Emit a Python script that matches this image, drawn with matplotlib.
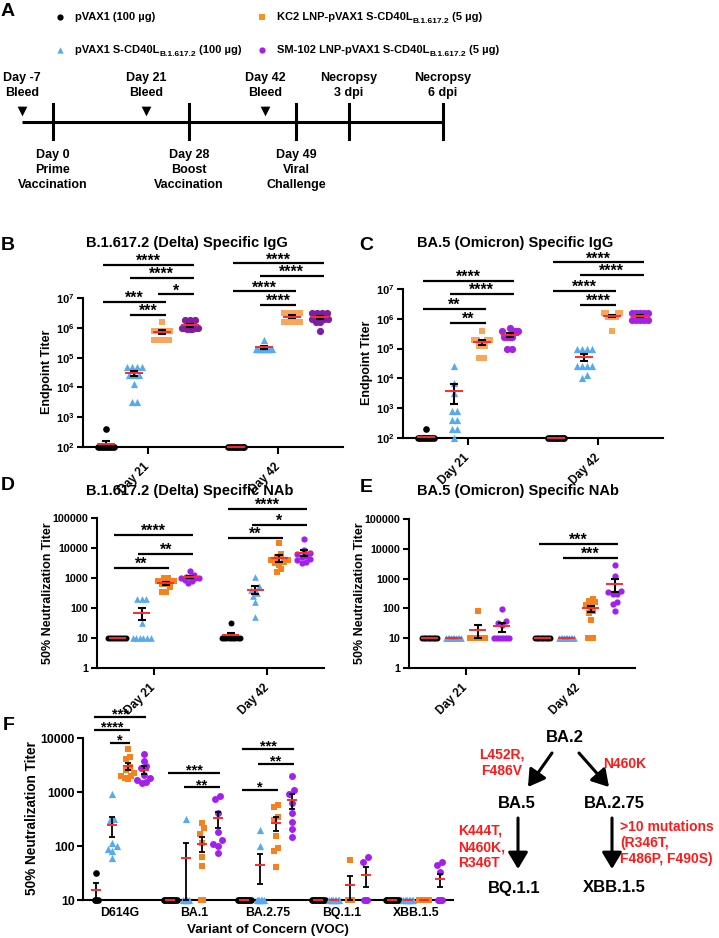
import numpy as np
import matplotlib
matplotlib.use('Agg')
import matplotlib.pyplot as plt
from matplotlib.ticker import NullLocator
from matplotlib.patches import FancyArrowPatch

plt.rcParams['font.family'] = ['Liberation Sans', 'DejaVu Sans']
plt.rcParams['font.weight'] = 'bold'
plt.rcParams['axes.linewidth'] = 1.5
plt.rcParams['mathtext.fontset'] = 'custom'
plt.rcParams['mathtext.rm'] = 'Liberation Sans:bold'
plt.rcParams['mathtext.it'] = 'Liberation Sans:bold'
plt.rcParams['mathtext.bf'] = 'Liberation Sans:bold'

W, H = 719, 938

# ---------------- data ----------------
legend_parts = [('pVAX1 (100 µg)', '', ''),
                ('pVAX1 S-CD40L', 'B.1.617.2', ' (100 µg)'),
                ('KC2 LNP-pVAX1 S-CD40L', 'B.1.617.2', ' (5 µg)'),
                ('SM-102 LNP-pVAX1 S-CD40L', 'B.1.617.2', ' (5 µg)')]
days = ['Day 21', 'Day 42']

# timeline (schematic)
bleeds = ['Day -7\nBleed', 'Day 21\nBleed', 'Day 42\nBleed']
events = ['Day 0\nPrime\nVaccination', 'Day 28\nBoost\nVaccination', 'Day 49\nViral\nChallenge']
necropsy = ['Necropsy\n3 dpi', 'Necropsy\n6 dpi']

# log10 titers, one list per group: pVAX1, S-CD40L, KC2 LNP, SM-102 LNP
b_d21 = [[2.6, 2, 2, 2, 2, 2, 2, 2, 2, 2],
         [4.7, 4.7, 4.7, 4.7, 4.4, 4.4, 4.4, 4.1, 3.5, 3.5],
         [6.2, 5.9, 5.9, 5.9, 5.9, 5.9, 5.6, 5.6, 5.6, 5.6],
         [6.25, 6.25, 6.25, 6.0, 6.0, 6.0, 6.0, 5.95, 5.95, 5.95]]
b_d42 = [[2, 2, 2, 2, 2, 2, 2, 2, 2, 2],
         [5.6, 5.3, 5.3, 5.3, 5.3, 5.3, 5.3, 5.3, 5.3, 5.3],
         [6.5, 6.5, 6.5, 6.5, 6.5, 6.2, 6.2, 6.2, 6.2, 6.2],
         [6.5, 6.5, 6.5, 6.5, 6.3, 6.3, 6.3, 6.2, 6.2, 5.9]]
c_d21 = [[2.3, 2, 2, 2, 2, 2, 2, 2, 2, 2],
         [4.4, 3.85, 3.5, 2.9, 2.9, 2.6, 2.6, 2.3, 2.3, 2.0],
         [5.6, 5.3, 5.3, 5.3, 5.3, 5.1, 5.1, 5.1, 4.7, 4.7],
         [5.7, 5.6, 5.6, 5.6, 5.4, 5.4, 5.4, 5.4, 5.0, 5.0]]
c_d42 = [[2, 2, 2, 2, 2, 2, 2, 2, 2, 2],
         [5, 5, 5, 5, 4.4, 4.4, 4.4, 4.4, 4.1, 4.0],
         [6.2, 6.2, 6.2, 6.2, 6.05, 6.05, 6.05, 6.05, 6.05, 5.6],
         [6.2, 6.2, 6.2, 6.2, 6.2, 5.95, 5.95, 5.95, 5.95, 5.95]]
d_d21 = [[1, 1, 1, 1, 1, 1, 1, 1, 1, 1],
         [2.3, 2.3, 2.3, 1.5, 1, 1, 1, 1, 1, 1],
         [3.0, 3.0, 2.9, 2.9, 2.85, 2.8, 2.8, 2.7, 2.55, 2.55],
         [3.25, 3.1, 3.05, 3.05, 3.0, 3.0, 3.0, 2.95, 2.9, 2.85]]
d_d42 = [[1.5, 1, 1, 1, 1, 1, 1, 1, 1, 1],
         [3.05, 2.75, 2.6, 2.6, 2.5, 2.4, 2.2, 1.7],
         [4.15, 3.8, 3.7, 3.6, 3.6, 3.55, 3.5, 3.45, 3.3, 3.2],
         [4.3, 3.95, 3.85, 3.8, 3.75, 3.7, 3.65, 3.6, 3.55, 3.5]]
e_d21 = [[1, 1, 1, 1, 1, 1, 1, 1, 1, 1],
         [1, 1, 1, 1, 1, 1, 1, 1, 1, 1],
         [1.9, 1, 1, 1, 1, 1, 1, 1],
         [1.97, 1.57, 1.5, 1.45, 1, 1, 1, 1, 1, 1]]
e_d42 = [[1, 1, 1, 1, 1, 1, 1, 1, 1, 1],
         [1, 1, 1, 1, 1, 1, 1, 1, 1, 1],
         [2.33, 2.25, 2.2, 2.1, 2.05, 1.9, 1.85, 1.6, 1, 1],
         [3.45, 3.1, 2.6, 2.55, 2.5, 2.5, 2.2, 2.15, 1.9]]

variants = ['D614G', 'BA.1', 'BA.2.75', 'BQ.1.1', 'XBB.1.5']
f_d614g = [[1.5, 1, 1, 1],
           [2.96, 2.5, 2.48, 2.06, 2.0, 1.94, 1.9, 1.78],
           [3.8, 3.65, 3.62, 3.46, 3.4, 3.35, 3.3, 3.26, 3.25, 3.3],
           [3.7, 3.58, 3.48, 3.45, 3.31, 3.26, 3.22, 3.19, 3.17]]
f_ba1 = [[1, 1, 1, 1, 1, 1, 1, 1, 1, 1],
         [2.5, 1, 1, 1, 1, 1],
         [2.42, 2.33, 2.22, 2.06, 1.8, 1.63, 1, 1],
         [2.93, 2.87, 2.61, 2.26, 2.11, 2.04, 2.0, 1.87]]
f_ba275 = [[1, 1, 1, 1, 1, 1, 1, 1, 1, 1],
           [2.3, 2.0, 1, 1, 1, 1, 1, 1],
           [2.76, 2.72, 2.54, 2.48, 2.19, 1.96, 1.9, 1.62],
           [3.3, 3.04, 2.96, 2.8, 2.61, 2.44, 2.31, 2.17]]
f_bq11 = [[1, 1, 1, 1, 1, 1, 1, 1, 1, 1],
          [1, 1, 1, 1, 1, 1, 1, 1],
          [1.74, 1, 1, 1, 1],
          [1.8, 1.7, 1, 1, 1]]
f_xbb = [[1, 1, 1, 1, 1, 1, 1, 1, 1, 1],
         [1, 1, 1, 1, 1, 1, 1, 1],
         [1, 1, 1, 1, 1, 1, 1, 1],
         [1.7, 1.65, 1.52, 1, 1, 1, 1]]

# significance: (column, group a, group b, label, log10 height)
sig_b = [(0, 0, 3, '****', 8.11), (0, 1, 3, '****', 7.67), (0, 2, 3, '*', 7.13),
         (0, 0, 2, '***', 6.87), (0, 1, 2, '***', 6.43),
         (1, 0, 3, '****', 8.17), (1, 1, 3, '****', 7.74), (1, 0, 2, '****', 7.23),
         (1, 1, 2, '****', 6.77)]
sig_c = [(0, 0, 3, '****', 7.27), (0, 1, 3, '****', 6.83), (0, 0, 2, '**', 6.33),
         (0, 1, 2, '**', 5.86),
         (1, 0, 3, '****', 7.9), (1, 1, 3, '****', 7.47), (1, 0, 2, '****', 6.93),
         (1, 1, 2, '****', 6.46)]
sig_d = [(0, 0, 3, '****', 4.43), (0, 1, 3, '**', 3.8), (0, 0, 2, '**', 3.33),
         (1, 0, 3, '****', 5.3), (1, 1, 3, '*', 4.77), (1, 0, 2, '**', 4.33)]
sig_e = [(1, 0, 3, '***', 4.17), (1, 1, 3, '***', 3.7)]
sig_f = [(0, 0, 3, '***', 4.39), (0, 0, 2, '****', 4.15), (0, 1, 2, '*', 3.91),
         (1, 0, 3, '***', 3.35), (1, 1, 3, '**', 3.09),
         (2, 0, 3, '***', 3.8), (2, 1, 3, '**', 3.52), (2, 0, 2, '*', 3.04)]

# ---------------- style ----------------
RED = '#ff2a2a'
MARKERS = ['o', '^', 's', 'o']
OFFS = np.array([-0.32, -0.107, 0.107, 0.32])
col_bc = ['black', '#56aaf0', '#f9a65a', '#7d1fa0']
col_c = ['black', '#56aaf0', '#f9a65a', '#a323e0']
col_def = ['black', '#56aaf0', '#f5821f', '#a31ff0']
col_leg = ['black', '#56aaf0', '#f7941d', '#a020f0']

fig = plt.figure(figsize=(W / 100, H / 100), dpi=100)
ov = fig.add_axes([0, 0, 1, 1])
ov.set_xlim(0, W)
ov.set_ylim(H, 0)
ov.axis('off')
ov.patch.set_visible(False)


def add_ax(x0, y0, x1, y1):
    ax = fig.add_axes([x0 / W, 1 - y1 / H, (x1 - x0) / W, (y1 - y0) / H])
    ax.patch.set_visible(False)
    for s in ['top', 'right']:
        ax.spines[s].set_visible(False)
    return ax


def style(ax, xlim, ylim, yticks, ylabels, yfs):
    ax.set_yscale('log')
    ax.set_xlim(xlim)
    ax.set_ylim(ylim)
    ax.set_yticks(yticks)
    ax.set_yticklabels(ylabels, fontsize=yfs)
    ax.yaxis.set_minor_locator(NullLocator())
    ax.tick_params(axis='both', direction='out', width=1.5, length=4, pad=2)


def spread(ax, x0, vals, d, wmax, eq):
    pts = ax.transData.transform(np.column_stack([np.full(len(vals), x0), vals]))
    order = np.argsort(pts[:, 1])
    xs = pts[:, 0].copy()
    bins = [[order[0]]]
    for i in order[1:]:
        if pts[i, 1] - pts[bins[-1][0], 1] < d:
            bins[-1].append(i)
        else:
            bins.append([i])
    for b in bins:
        k = len(b)
        if k < 2:
            continue
        same = np.ptp(pts[b, 1]) < 0.5
        step = eq if same else d * 0.75
        w = min((k - 1) * step, wmax)
        offs = np.linspace(-w / 2, w / 2, k)
        idx = np.argsort(np.abs(offs) + 1e-3 * np.arange(k))
        for j, bi in zip(idx, b):
            xs[bi] = pts[bi, 0] + offs[j]
    return ax.transData.inverted().transform(np.column_stack([xs, pts[:, 1]]))[:, 0]


def px_per_x(ax):
    t = ax.transData.transform([(0, 1), (1, 1)])
    return t[1, 0] - t[0, 0]


def draw_groups(ax, cols, colors, ms, d, wmax, eq, hw, cap, elw):
    ppx = px_per_x(ax)
    for ci, groups in enumerate(cols):
        for gi, logv in enumerate(groups):
            vals = 10 ** np.array(logv, dtype=float)
            x0 = ci + OFFS[gi]
            xs = spread(ax, x0, vals, d, wmax, eq)
            ax.scatter(xs, vals, s=ms[gi] ** 2, marker=MARKERS[gi], color=colors[gi],
                       linewidths=0, zorder=3, clip_on=False)
            m = vals.mean()
            se = vals.std(ddof=1) / np.sqrt(len(vals))
            ax.errorbar([x0], [m], yerr=[[min(se, m * 0.9)], [se]], fmt='none', ecolor='k',
                        elinewidth=elw, capsize=cap, capthick=elw, zorder=4, clip_on=False)
            h = hw / ppx
            ax.plot([x0 - h, x0 + h], [m, m], color=RED, lw=1.4, zorder=5,
                    solid_capstyle='butt', clip_on=False)


def draw_sig(ax, sigs, fs, gap):
    for ci, a, b, lab, lev in sigs:
        xa = ci + OFFS[a] - 0.03
        xb = ci + OFFS[b] + 0.03
        y = 10 ** lev
        ax.plot([xa, xb], [y, y], color='k', lw=1.6, clip_on=False, solid_capstyle='butt')
        ax.annotate(lab, xy=((xa + xb) / 2, y), xytext=(0, gap), textcoords='offset points',
                    ha='center', va='bottom', fontsize=fs, annotation_clip=False)


def day_axis(ax):
    ax.set_xticks([0, 1])
    ax.set_xticklabels(days, rotation=45, ha='right', va='center', rotation_mode='anchor',
                       fontsize=8.5)
    ax.tick_params(axis='x', length=5, pad=8)


pow_ticks = [1e2, 1e3, 1e4, 1e5, 1e6, 1e7]
pow_labels = [r'$10^{%d}$' % k for k in range(2, 8)]
nab_ticks = [1, 10, 100, 1000, 10000, 100000]
nab_labels = ['1', '10', '100', '1000', '10000', '100000']

# ---------------- panel B ----------------
axb = add_ax(83, 298, 343, 447)
style(axb, (-0.5, 1.5), (1e2, 1e7), pow_ticks, pow_labels, 8)
day_axis(axb)
draw_groups(axb, [b_d21, b_d42], col_bc, [4.8, 5.2, 4.8, 5.2], 6.5, 16, 5, 9, 2.8, 1.5)
draw_sig(axb, sig_b, 11.5, -3)

# ---------------- panel C ----------------
axc = add_ax(403, 289, 663, 438)
style(axc, (-0.5, 1.5), (1e2, 1e7), pow_ticks, pow_labels, 8)
day_axis(axc)
draw_groups(axc, [c_d21, c_d42], col_c, [4.8, 5.2, 4.8, 5.2], 6.5, 16, 5, 9, 2.8, 1.5)
draw_sig(axc, sig_c, 11.5, -3)

# ---------------- panel D ----------------
axd = add_ax(97, 518, 324, 668)
style(axd, (-0.5, 1.5), (1, 1e5), nab_ticks, nab_labels, 7.7)
day_axis(axd)
draw_groups(axd, [d_d21, d_d42], col_def, [4.3, 4.8, 4.3, 4.5], 5.5, 18, 4.4, 8.5, 2.6, 1.5)
draw_sig(axd, sig_d, 11.5, -3)

# ---------------- panel E ----------------
axe = add_ax(409, 519, 635, 668)
style(axe, (-0.5, 1.5), (1, 1e5), nab_ticks, nab_labels, 7.7)
day_axis(axe)
draw_groups(axe, [e_d21, e_d42], col_def, [4.3, 4.8, 4.3, 4.5], 5.5, 15, 4.4, 8.5, 2.6, 1.5)
draw_sig(axe, sig_e, 11.5, -3)

# ---------------- panel F ----------------
axf = add_ax(83, 738, 453, 900)
style(axf, (-0.5, 4.5), (10, 10000), [10, 100, 1000, 10000], ['10', '100', '1000', '10000'], 8.8)
axf.set_xticks(range(len(variants)))
axf.set_xticklabels(variants, fontsize=8.8)
axf.tick_params(axis='x', length=0, pad=5)
draw_groups(axf, [f_d614g, f_ba1, f_ba275, f_bq11, f_xbb], col_def,
            [4.8, 5.2, 4.8, 5.0], 6, 13, 1.4, 5, 2.2, 1.3)
draw_sig(axf, sig_f, 10.5, -3.5)

# ---------------- titles / labels ----------------
ttl = dict(fontsize=10.5, ha='center', va='center')
ov.text(187, 243, 'B.1.617.2 (Delta) Specific IgG', **ttl)
ov.text(515, 243, 'BA.5 (Omicron) Specific IgG', **ttl)
ov.text(190, 491, 'B.1.617.2 (Delta) Specific NAb', **ttl)
ov.text(518, 491, 'BA.5 (Omicron) Specific NAb', **ttl)
yl = dict(fontsize=9, ha='center', va='center', rotation=90)
ov.text(47, 372, 'Endpoint Titer', **yl)
ov.text(367, 363, 'Endpoint Titer', **yl)
ov.text(48, 593, '50% Neutralization Titer', **yl)
ov.text(360, 593, '50% Neutralization Titer', **yl)
ov.text(32, 818, '50% Neutralization Titer', fontsize=9.8, ha='center', va='center', rotation=90)
ov.text(268, 930, 'Variant of Concern (VOC)', fontsize=9.7, ha='center', va='center')

for lab, x, y in [('A', 8, 11), ('B', 8, 246), ('C', 366, 245), ('D', 8, 485),
                  ('E', 366, 487), ('F', 9, 725)]:
    ov.text(x, y, lab, fontsize=14, ha='center', va='center')

# ---------------- legend ----------------
leg_pos = [(60, 17), (60, 50), (262, 17), (262, 50)]
for i, (parts, (mx, my)) in enumerate(zip(legend_parts, leg_pos)):
    ov.scatter([mx], [my], s=4.5 ** 2, marker=MARKERS[i], color=col_leg[i], linewidths=0)
    t1 = ov.text(mx + 15, my, parts[0], fontsize=8, ha='left', va='center')
    if parts[1]:
        t2 = ov.annotate(parts[1], xy=(1, 0.08), xycoords=t1, fontsize=6, ha='left',
                         va='center')
        ov.annotate(parts[2], xy=(1, 0), xycoords=(t2, t1), fontsize=8, ha='left',
                    va='bottom')

# ---------------- timeline ----------------
tl_y = 122
tl_x0, tl_x1 = 22, 443
ov.plot([tl_x0, tl_x1], [tl_y, tl_y], color='k', lw=2.2, solid_capstyle='butt')
event_x = [53, 189, 296]
necropsy_x = [349, 443]
bleed_x = [22, 146, 265]
for x in event_x + necropsy_x:
    ov.plot([x, x], [104, 139], color='k', lw=2.2)
ov.scatter(bleed_x, [111] * len(bleed_x), marker='v', s=7 ** 2, color='k', linewidths=0)
tl_font = dict(fontsize=9, ha='center', va='center', linespacing=1.35)
for lab, x in zip(bleeds, bleed_x):
    ov.text(x, 85.5, lab, **tl_font)
for lab, x in zip(necropsy, necropsy_x):
    ov.text(x, 85.5, lab, **tl_font)
for lab, x in zip(events, event_x):
    ov.text(x, 170, lab, **tl_font)

# ---------------- lineage tree ----------------
for lab, x, y in [('BA.2', 565, 737), ('BA.5', 517, 803), ('BA.2.75', 614, 803),
                  ('BQ.1.1', 514, 888), ('XBB.1.5', 614, 888)]:
    ov.text(x, y, lab, fontsize=12, ha='center', va='center')
red_kw = dict(fontsize=10, color='#ff1a1a', va='center')
ov.text(502, 763, 'L452R,\nF486V', ha='center', multialignment='center', **red_kw)
ov.text(603, 764, 'N460K', ha='left', **red_kw)
ov.text(458, 847, 'K444T,\nN460K,\nR346T', ha='left', multialignment='left', **red_kw)
ov.text(620, 843, '>10 mutations\n(R346T,\nF486P, F490S)', ha='left', multialignment='left', **red_kw)
for (xa, ya), (xb, yb) in [((552, 753), (528, 787)), ((579, 753), (609, 787)),
                           ((518, 818), (518, 869)), ((612, 818), (612, 869))]:
    ov.add_patch(FancyArrowPatch((xa, ya), (xb, yb), arrowstyle='-|>,head_length=0.5,head_width=0.3',
                                 mutation_scale=20, lw=2.2, color='k', shrinkA=0, shrinkB=0))

fig.savefig('out.png', dpi=100)
